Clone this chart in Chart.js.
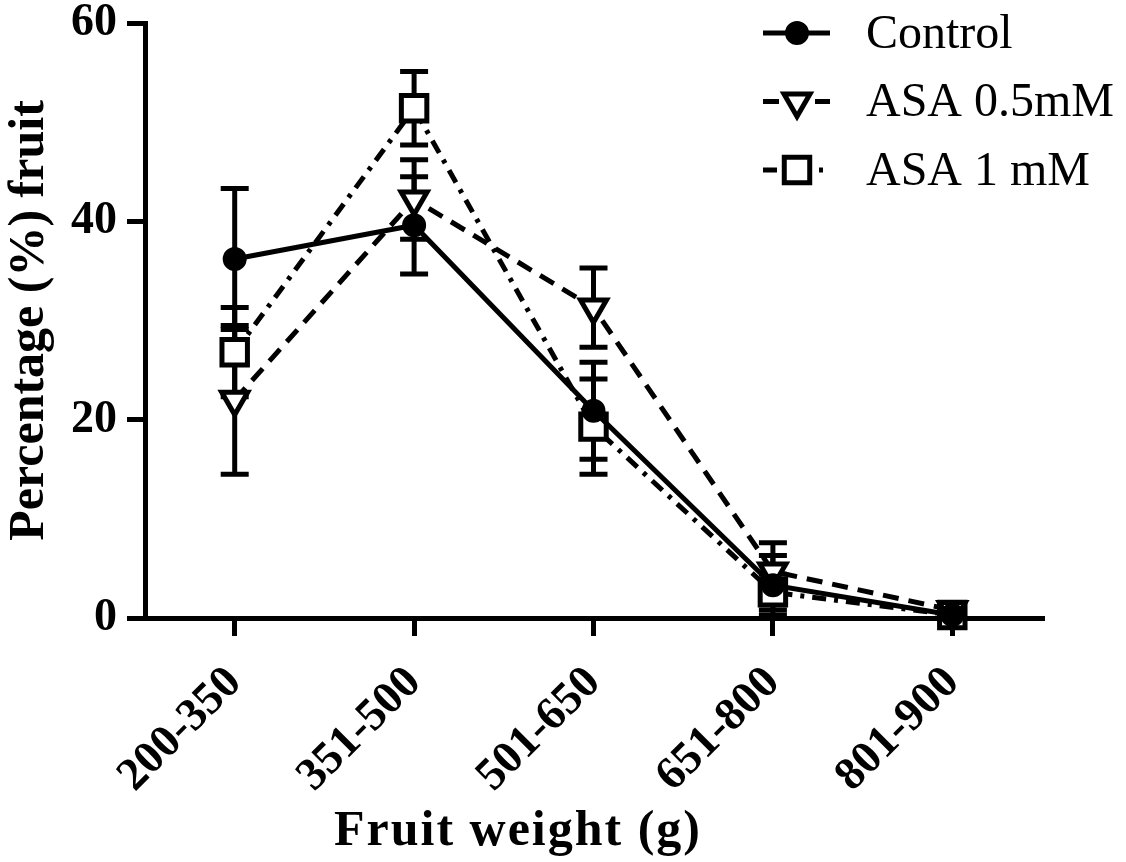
<!DOCTYPE html>
<html>
<head>
<meta charset="utf-8">
<script src="https://cdn.jsdelivr.net/npm/chart.js@4.4.1/dist/chart.umd.min.js"></script>
<style>
    html, body { margin: 0; padding: 0; background: #fff; }
    #wrap { width: 1126px; height: 862px; }
</style>
</head>
<body>
<div id="wrap"><canvas id="lineChart"></canvas></div>
<script>
// data
const categories = ['200-350', '351-500', '501-650', '651-800', '801-900'];
const yTicks = [0, 20, 40, 60];

const controlMean = [36.2, 39.6, 20.9, 3.3, 0.3];
const controlErr = [7.1, 4.9, 4.9, 3.0, 0.3];

const asa05Mean = [22.0, 42.2, 31.3, 4.7, 0.8];
const asa05Err = [7.5, 4.0, 4.0, 2.9, 0.3];

const asa1Mean = [26.8, 51.4, 19.3, 2.6, 0.3];
const asa1Err = [4.5, 3.7, 4.8, 1.8, 0.3];

const serif = '"Liberation Serif", "Times New Roman", serif';

// vertical error bars with caps
const errorBars = {
    id: 'errorBars',
    beforeDatasetsDraw(chart) {
        const ctx = chart.ctx;
        const y = chart.scales.y;
        ctx.save();
        ctx.strokeStyle = '#000';
        ctx.lineWidth = 5;
        ctx.setLineDash([]);
        chart.data.datasets.forEach((ds, i) => {
            const meta = chart.getDatasetMeta(i);
            meta.data.forEach((pt, j) => {
                const e = ds.errors[j];
                const top = y.getPixelForValue(ds.data[j] + e);
                const bot = y.getPixelForValue(Math.max(ds.data[j] - e, 0));
                const half = 14;
                ctx.beginPath();
                ctx.moveTo(pt.x, top);
                ctx.lineTo(pt.x, bot);
                ctx.moveTo(pt.x - half, top);
                ctx.lineTo(pt.x + half, top);
                ctx.moveTo(pt.x - half, bot);
                ctx.lineTo(pt.x + half, bot);
                ctx.stroke();
            });
        });
        ctx.restore();
    }
};

// legend top right + x axis title
const extras = {
    id: 'extras',
    afterDraw(chart) {
        const ctx = chart.ctx;
        ctx.save();
        chart.data.datasets.forEach((ds, i) => {
            const ly = 33 + i * 68.5;
            ctx.strokeStyle = '#000';
            ctx.lineWidth = 5;
            ctx.setLineDash(ds.borderDash || []);
            ctx.beginPath();
            ctx.moveTo(763, ly);
            ctx.lineTo(830, ly);
            ctx.stroke();
            ctx.setLineDash([]);
            ctx.fillStyle = ds.pointBackgroundColor;
            ctx.strokeStyle = '#000';
            ctx.lineWidth = ds.pointBorderWidth;
            Chart.helpers.drawPoint(ctx, {
                pointStyle: ds.pointStyle,
                rotation: ds.pointRotation || 0,
                radius: ds.pointRadius,
                borderWidth: ds.pointBorderWidth
            }, 797, ly);
            ctx.fillStyle = '#000';
            ctx.font = '48px ' + serif;
            ctx.textAlign = 'left';
            ctx.textBaseline = 'middle';
            ctx.fillText(ds.label, 866, ly + 2);
        });

        ctx.font = 'bold 50px ' + serif;
        ctx.letterSpacing = '2px';
        ctx.textAlign = 'center';
        ctx.textBaseline = 'alphabetic';
        ctx.fillStyle = '#000';
        ctx.fillText('Fruit weight (g)', 518, 845);
        ctx.restore();
    }
};

const lineCtx = document.getElementById('lineChart');
new Chart(lineCtx, {
    type: 'line',
    data: {
        labels: categories,
        datasets: [{
            label: 'Control',
            data: controlMean,
            errors: controlErr,
            borderColor: '#000',
            borderWidth: 5,
            borderDash: [],
            pointStyle: 'circle',
            pointRadius: 11,
            pointBorderWidth: 2,
            pointBackgroundColor: '#000',
            pointBorderColor: '#000',
            clip: false
        }, {
            label: 'ASA 0.5mM',
            data: asa05Mean,
            errors: asa05Err,
            borderColor: '#000',
            borderWidth: 5,
            borderDash: [16, 10],
            pointStyle: 'triangle',
            pointRotation: 180,
            pointRadius: 15,
            pointBorderWidth: 5,
            pointBackgroundColor: '#fff',
            pointBorderColor: '#000',
            clip: false
        }, {
            label: 'ASA 1 mM',
            data: asa1Mean,
            errors: asa1Err,
            borderColor: '#000',
            borderWidth: 5,
            borderDash: [14, 8, 4, 8],
            pointStyle: 'rect',
            pointRadius: 18,
            pointBorderWidth: 5,
            pointBackgroundColor: '#fff',
            pointBorderColor: '#000',
            clip: false
        }]
    },
    options: {
        responsive: true,
        maintainAspectRatio: false,
        animation: false,
        layout: {
            padding: { top: 20, right: 84, left: 0, bottom: 0 }
        },
        plugins: {
            legend: { display: false },
            tooltip: { enabled: false }
        },
        scales: {
            x: {
                offset: true,
                afterFit(scale) {
                    scale.height = 244;
                    scale.paddingLeft = 0;
                    scale.paddingRight = 0;
                },
                grid: {
                    offset: false,
                    drawOnChartArea: false,
                    color: '#000',
                    lineWidth: 5,
                    tickLength: 18
                },
                border: { color: '#000', width: 5 },
                ticks: {
                    color: '#000',
                    font: { family: serif, size: 46, weight: 'bold' },
                    maxRotation: 45,
                    minRotation: 45,
                    padding: 20
                }
            },
            y: {
                min: 0,
                max: 60,
                afterFit(scale) {
                    scale.width = 145;
                    scale.paddingTop = 0;
                    scale.paddingBottom = 0;
                },
                afterBuildTicks(scale) {
                    scale.ticks = yTicks.map(v => ({ value: v }));
                },
                grid: {
                    drawOnChartArea: false,
                    color: '#000',
                    lineWidth: 5,
                    tickLength: 18
                },
                border: { color: '#000', width: 5 },
                ticks: {
                    color: '#000',
                    font: { family: serif, size: 46, weight: 'bold' },
                    padding: 10
                },
                title: {
                    display: true,
                    text: 'Percentage (%) fruit',
                    color: '#000',
                    font: { family: serif, size: 50, weight: 'bold' },
                    padding: 0
                }
            }
        }
    },
    plugins: [errorBars, extras]
});
</script>
</body>
</html>
